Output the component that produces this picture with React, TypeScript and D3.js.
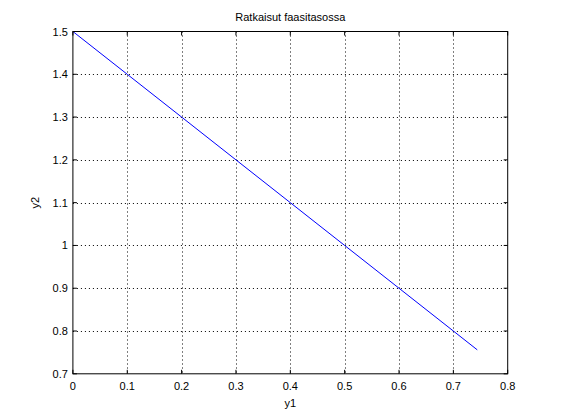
import React from "react";
import * as d3 from "d3";

const xTicks = [0, 0.1, 0.2, 0.3, 0.4, 0.5, 0.6, 0.7, 0.8];
const yTicks = [0.7, 0.8, 0.9, 1.0, 1.1, 1.2, 1.3, 1.4, 1.5];
const y1Values = [0, 0.1, 0.2, 0.3, 0.4, 0.5, 0.6, 0.7, 0.744];
const y2Values = [1.5, 1.4, 1.3, 1.2, 1.1, 1.0, 0.9, 0.8, 0.756];
const title = "Ratkaisut faasitasossa";
const xLabel = "y1";
const yLabel = "y2";

export default function App() {
  const W = 561, H = 420;
  const left = 72.9, right = 507.7, top = 31.5, bottom = 373.8;
  const x = d3.scaleLinear().domain([0, 0.8]).range([left, right]);
  const y = d3.scaleLinear().domain([0.7, 1.5]).range([bottom, top]);
  const pts = y1Values.map((v, i) => [v, y2Values[i]] as [number, number]);
  const line = d3.line<[number, number]>().x(d => x(d[0])).y(d => y(d[1]));
  const font = "Liberation Sans, Arial, sans-serif";
  const fmt = (v: number) => (v === 1 ? "1" : String(+v.toFixed(1)));
  return (
    <svg width={W} height={H} style={{ position: "absolute", left: 0, top: 0, background: "#fff" }}>
      <rect x={0} y={0} width={W} height={H} fill="#fff" />
      {xTicks.slice(1, -1).map(t => (
        <line key={"gx" + t} x1={Math.round(x(t)) + 0.5} x2={Math.round(x(t)) + 0.5} y1={top} y2={bottom}
          stroke="#000" strokeWidth={1} strokeDasharray="1,3" />
      ))}
      {yTicks.slice(1, -1).map(t => (
        <line key={"gy" + t} y1={Math.round(y(t)) + 0.5} y2={Math.round(y(t)) + 0.5} x1={left} x2={right}
          stroke="#000" strokeWidth={1} strokeDasharray="1,3" />
      ))}
      <path d={line(pts) || ""} fill="none" stroke="#0000ff" strokeWidth={1} />
      <rect x={left} y={top} width={right - left} height={bottom - top} fill="none" stroke="#000" strokeWidth={1} />
      {xTicks.map(t => (
        <g key={"tx" + t}>
          <line x1={x(t)} x2={x(t)} y1={bottom} y2={bottom - 4} stroke="#000" />
          <line x1={x(t)} x2={x(t)} y1={top} y2={top + 4} stroke="#000" />
          <text x={x(t)} y={bottom + 16} textAnchor="middle" fontFamily={font} fontSize={11}>{fmt(t)}</text>
        </g>
      ))}
      {yTicks.map(t => (
        <g key={"ty" + t}>
          <line x1={left} x2={left + 4} y1={y(t)} y2={y(t)} stroke="#000" />
          <line x1={right} x2={right - 4} y1={y(t)} y2={y(t)} stroke="#000" />
          <text x={left - 5} y={y(t) + 4} textAnchor="end" fontFamily={font} fontSize={11}>{fmt(t)}</text>
        </g>
      ))}
      <text x={(left + right) / 2} y={21} textAnchor="middle" fontFamily={font} fontSize={11}>{title}</text>
      <text x={(left + right) / 2} y={407} textAnchor="middle" fontFamily={font} fontSize={11}>{xLabel}</text>
      <text transform={`translate(39,${(top + bottom) / 2}) rotate(-90)`} textAnchor="middle" fontFamily={font} fontSize={11}>{yLabel}</text>
    </svg>
  );
}
